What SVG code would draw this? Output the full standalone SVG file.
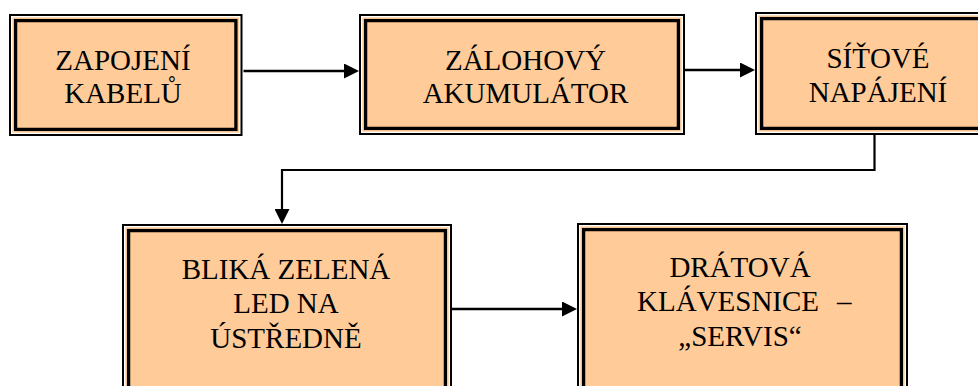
<svg xmlns="http://www.w3.org/2000/svg" width="978" height="386" viewBox="0 0 978 386">
<style>
.o{fill:#fff;stroke:#000;stroke-width:2}
.f{fill:#FFCC99}
.i{fill:none;stroke:#000;stroke-width:3.3}
text{font-family:'Liberation Serif','Times New Roman','DejaVu Serif',serif;font-size:29px;fill:#000;text-anchor:middle}
.c{fill:none;stroke:#000;stroke-width:2.6}
.e{fill:none;stroke:#000;stroke-width:2.2}
</style>
<defs>
<marker id="ah" viewBox="0 0 15 15" refX="5" refY="7.5" markerWidth="15" markerHeight="15" markerUnits="userSpaceOnUse" orient="auto">
<path d="M0,0 L15,7.5 L0,15 Z" fill="#000"/>
</marker>
</defs>
<rect width="978" height="386" fill="#fff"/>
<g id="connectors">
<path class="c" d="M243.5,71 H349" marker-end="url(#ah)"/>
<path class="c" d="M685,70 H745" marker-end="url(#ah)"/>
<path class="e" d="M874.5,135 V170 H282 V214" marker-end="url(#ah)"/>
<path class="c" d="M452,309 H567" marker-end="url(#ah)"/>
</g>
<g id="zapojeni">
<rect class="o" x="10" y="15" width="231.5" height="120"/>
<rect class="f" x="12.3" y="17.3" width="226.9" height="115.4"/>
<rect class="i" x="15.6" y="20.6" width="220.3" height="108.8"/>
<text x="123" y="70">ZAPOJENÍ</text>
<text x="123" y="103">KABELŮ</text>
</g>
<g id="zalohovy">
<rect class="o" x="360" y="15" width="324" height="119"/>
<rect class="f" x="362.3" y="17.3" width="319.4" height="114.4"/>
<rect class="i" x="365.6" y="20.6" width="312.8" height="107.8"/>
<text x="525.5" y="70">ZÁLOHOVÝ</text>
<text x="525.5" y="103">AKUMULÁTOR</text>
</g>
<g id="sitove">
<rect class="o" x="756" y="13" width="244" height="121"/>
<rect class="f" x="758.3" y="15.3" width="239.4" height="116.4"/>
<rect class="i" x="761.6" y="18.6" width="232.8" height="109.8"/>
<text x="878" y="68">SÍŤOVÉ</text>
<text x="878" y="102">NAPÁJENÍ</text>
</g>
<g id="blika">
<rect class="o" x="123" y="225" width="328" height="174"/>
<rect class="f" x="125.3" y="227.3" width="323.4" height="169.4"/>
<rect class="i" x="128.6" y="230.6" width="316.8" height="162.8"/>
<text x="286" y="279">BLIKÁ ZELENÁ</text>
<text x="286" y="313">LED NA</text>
<text x="286" y="348">ÚSTŘEDNĚ</text>
</g>
<g id="dratova">
<rect class="o" x="578" y="224" width="329" height="175"/>
<rect class="f" x="580.3" y="226.3" width="324.4" height="170.4"/>
<rect class="i" x="583.6" y="229.6" width="317.8" height="163.8"/>
<text x="740" y="277">DRÁTOVÁ</text>
<text x="637" y="311" text-anchor="start" style="text-anchor:start">KLÁVESNICE <tspan x="837">–</tspan></text>
<text x="740" y="346">„SERVIS“</text>
</g>
</svg>
